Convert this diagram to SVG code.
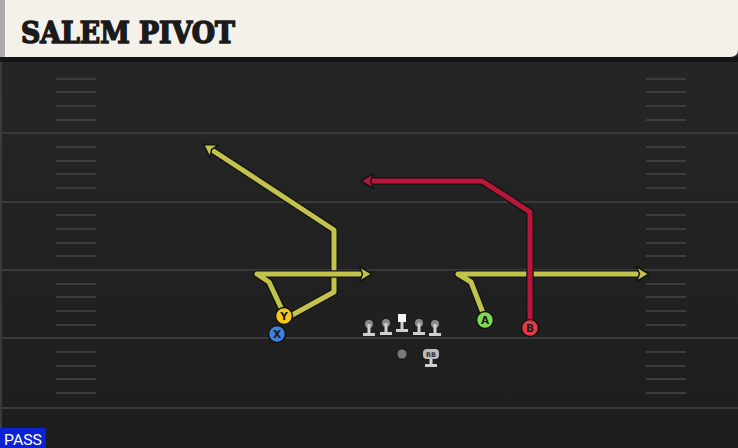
<svg xmlns="http://www.w3.org/2000/svg" width="738" height="448" viewBox="0 0 738 448">
<defs>
<linearGradient id="field" x1="0" y1="0" x2="0" y2="1">
<stop offset="0" stop-color="#272727"/>
<stop offset="1" stop-color="#1d1d1d"/>
</linearGradient>
<marker id="ay" viewBox="0 0 16 18" refX="4" refY="9" markerWidth="16" markerHeight="18" orient="auto" markerUnits="userSpaceOnUse">
<path d="M1.5,1.5 L14,9 L1.5,16.5 L4.5,9 Z" fill="#c3c24a" stroke="#141414" stroke-width="1.5" stroke-linejoin="round"/>
</marker>
<marker id="ar" viewBox="0 0 16 18" refX="4" refY="9" markerWidth="16" markerHeight="18" orient="auto" markerUnits="userSpaceOnUse">
<path d="M1.5,1.5 L14,9 L1.5,16.5 L4.5,9 Z" fill="#b8173a" stroke="#141414" stroke-width="1.5" stroke-linejoin="round"/>
</marker>
</defs>
<style>
.yard{stroke:#3a3a3a;stroke-width:2}
.hash{stroke:#3c3c3c;stroke-width:2}
.out{fill:none;stroke:#141414;stroke-width:7.5;stroke-linejoin:round}
.ry{fill:none;stroke:#c3c24a;stroke-width:5;stroke-linejoin:round}
.rr{fill:none;stroke:#b8173a;stroke-width:5;stroke-linejoin:round}
.lbl{font-family:"DejaVu Sans",sans-serif;font-weight:bold;font-size:10.5px;fill:#1a1a1a;text-anchor:middle}
.ol{fill:#cfcfcf}
.olh{fill:#8a8a8a}
</style>
<rect width="738" height="448" fill="url(#field)"/>
<rect x="0" y="58" width="2" height="390" fill="#3a3a3a"/>
<g id="yardlines">
<line class="yard" x1="0" y1="133" x2="738" y2="133"/>
<line class="yard" x1="0" y1="202" x2="738" y2="202"/>
<line class="yard" x1="0" y1="270" x2="738" y2="270"/>
<line class="yard" x1="0" y1="338" x2="738" y2="338"/>
<line class="yard" x1="0" y1="408" x2="738" y2="408"/>
</g>
<g id="hashes">
<path class="hash" d="M56,79H96M56,92H96M56,106H96M56,120H96M56,147H96M56,161H96M56,174H96M56,188H96M56,215H96M56,229H96M56,243H96M56,256H96M56,284H96M56,297H96M56,311H96M56,325H96M56,352H96M56,366H96M56,379H96M56,393H96"/>
<path class="hash" d="M646,79H686M646,92H686M646,106H686M646,120H686M646,147H686M646,161H686M646,174H686M646,188H686M646,215H686M646,229H686M646,243H686M646,256H686M646,284H686M646,297H686M646,311H686M646,325H686M646,352H686M646,366H686M646,379H686M646,393H686"/>
</g>
<g id="header">
<rect x="0" y="57" width="738" height="5" fill="#151515"/>
<path d="M4,0 H738 V50 Q738,57 730,57 H4 Z" fill="#f4f1eb"/>
<rect x="0" y="0" width="5" height="57" fill="#a9aaa9"/>
<text x="21" y="43" font-family="DejaVu Serif, serif" font-weight="900" font-size="29" fill="#1b1b1b" stroke="#1b1b1b" stroke-width="1.6" textLength="214" lengthAdjust="spacingAndGlyphs">SALEM PIVOT</text>
</g>
<g id="connectors">
<path class="out" d="M285,319 L334,292 L334,230 L212,150"/>
<path class="ry" d="M285,319 L334,292 L334,230 L212,150" marker-end="url(#ay)"/>
<path class="out" d="M284,314 L269,282 L257,274 L362,274"/>
<path class="ry" d="M284,314 L269,282 L257,274 L362,274" marker-end="url(#ay)"/>
<path class="out" d="M485,318 L471,282 L458,274 L639,274"/>
<path class="ry" d="M485,318 L471,282 L458,274 L639,274" marker-end="url(#ay)"/>
<path class="out" d="M530,326 L530,212 L482,181 L371,181"/>
<path class="rr" d="M530,326 L530,212 L482,181 L371,181" marker-end="url(#ar)"/>
</g>
<g id="Y">
<circle cx="284" cy="316" r="8.5" fill="#f5c71a" stroke="#111" stroke-width="1.5"/>
<text class="lbl" x="284" y="320">Y</text>
</g>
<g id="X">
<circle cx="277" cy="334" r="8.5" fill="#3f80d8" stroke="#111" stroke-width="1.5"/>
<text class="lbl" x="277" y="338">X</text>
</g>
<g id="A">
<circle cx="485" cy="320" r="8.5" fill="#7fd955" stroke="#111" stroke-width="1.5"/>
<text class="lbl" x="485" y="324">A</text>
</g>
<g id="B">
<circle cx="530" cy="328" r="8.5" fill="#e23b48" stroke="#111" stroke-width="1.5"/>
<text class="lbl" x="530" y="332">B</text>
</g>
<g id="LT">
<circle class="olh" cx="369" cy="324" r="4"/>
<rect class="ol" x="367.5" y="324" width="3" height="10"/>
<rect class="ol" x="363" y="333" width="12" height="3"/>
</g>
<g id="LG">
<circle class="olh" cx="386" cy="323" r="4"/>
<rect class="ol" x="384.5" y="323" width="3" height="10"/>
<rect class="ol" x="380" y="332" width="12" height="3"/>
</g>
<g id="C">
<rect x="398" y="314" width="8" height="8" fill="#f4f4f4"/>
<rect class="ol" x="400.5" y="322" width="3" height="8"/>
<rect class="ol" x="396" y="329" width="12" height="3"/>
</g>
<g id="RG">
<circle class="olh" cx="419" cy="323" r="4"/>
<rect class="ol" x="417.5" y="323" width="3" height="10"/>
<rect class="ol" x="413" y="332" width="12" height="3"/>
</g>
<g id="RT">
<circle class="olh" cx="435" cy="324" r="4"/>
<rect class="ol" x="433.5" y="324" width="3" height="10"/>
<rect class="ol" x="429" y="333" width="12" height="3"/>
</g>
<g id="QB">
<circle cx="402" cy="354" r="4.5" fill="#7a7a7a"/>
</g>
<g id="RB">
<rect x="423" y="349" width="16" height="10" rx="4" fill="#bdbdbd"/>
<text x="431" y="357" font-family="DejaVu Sans, sans-serif" font-weight="bold" font-size="6.5" fill="#333" text-anchor="middle">RB</text>
<rect class="ol" x="429.5" y="359" width="3" height="6"/>
<rect class="ol" x="425" y="364" width="12" height="3"/>
</g>
<g id="pass">
<rect x="0" y="428" width="46" height="20" fill="#0b22d4"/>
<text x="4" y="445" font-family="Roboto, sans-serif" font-size="15" fill="#ffffff" textLength="38" lengthAdjust="spacingAndGlyphs">PASS</text>
</g>
</svg>
